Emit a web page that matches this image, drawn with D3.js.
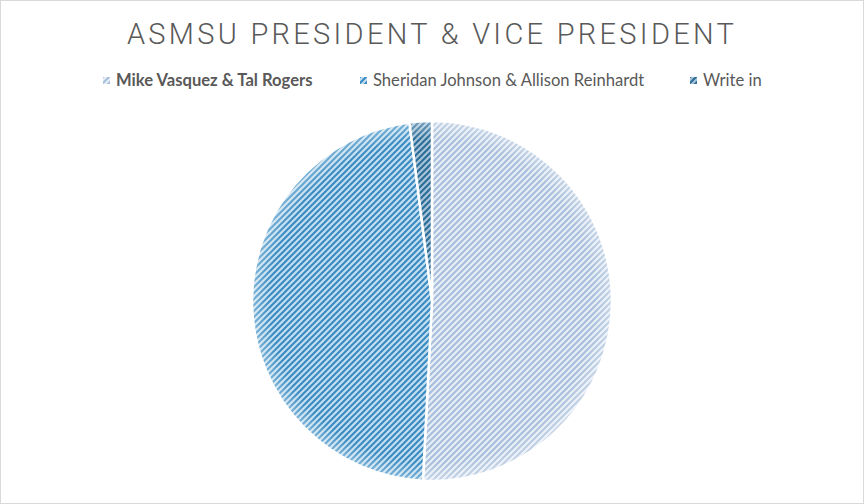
<!DOCTYPE html>
<html>
<head>
<meta charset="utf-8">
<script src="https://cdn.jsdelivr.net/npm/d3@7"></script>
<style>
  html, body { margin: 0; padding: 0; background: #fff; }
</style>
</head>
<body>
<div id="chart"></div>
<script>
// ticket names and vote share (%)
const candidates = ['Mike Vasquez & Tal Rogers', 'Sheridan Johnson & Allison Reinhardt', 'Write in'];
const shares = [50.8, 47.2, 2.0];
const bgColors = ['#e9eff7', '#c6e0f1', '#a7c6dc'];
const stripeColors = ['#a8bfdb', '#3a8cc2', '#2e6d96'];

const width = 864;
const height = 504;
const cx = 432, cy = 301, radius = 180;

const svg = d3.select('#chart')
  .append('svg')
    .attr('width', width)
    .attr('height', height);

svg.append('rect')
  .attr('x', 0.5).attr('y', 0.5)
  .attr('width', width - 1).attr('height', height - 1)
  .attr('fill', '#fff')
  .attr('stroke', '#d9d9d9');

const defs = svg.append('defs');

// one diagonal stripe pattern per slice
candidates.forEach((c, i) => {
  const p = defs.append('pattern')
    .attr('id', 'pat' + i)
    .attr('patternUnits', 'userSpaceOnUse')
    .attr('width', 6)
    .attr('height', 6);
  p.append('rect').attr('width', 6).attr('height', 6).attr('fill', bgColors[i]);
  p.append('path')
    .attr('d', 'M-1,1 l2,-2 M0,6 l6,-6 M5,7 l2,-2')
    .attr('stroke', stripeColors[i])
    .attr('stroke-width', 2.2);
});

// soft shading near the rim
const grad = defs.append('radialGradient')
  .attr('id', 'rim')
  .attr('cx', '50%').attr('cy', '50%').attr('r', '50%');
grad.append('stop').attr('offset', '90%').attr('stop-color', '#fff').attr('stop-opacity', 0);
grad.append('stop').attr('offset', '100%').attr('stop-color', '#fff').attr('stop-opacity', 0.35);

// title
svg.append('text')
  .attr('x', cx)
  .attr('y', 44)
  .attr('text-anchor', 'middle')
  .style('font-family', 'Roboto, "Liberation Sans", sans-serif')
  .style('font-weight', 300)
  .style('font-size', '29px')
  .style('letter-spacing', '3.3px')
  .attr('fill', '#595959')
  .text('ASMSU PRESIDENT & VICE PRESIDENT');

// legend
const legendX = [103, 360, 690];
const legend = svg.selectAll('.legend')
  .data(candidates)
  .join('g')
    .attr('class', 'legend')
    .attr('transform', (d, i) => `translate(${legendX[i]}, 77)`);

legend.append('rect')
  .attr('width', 7).attr('height', 7)
  .attr('fill', (d, i) => `url(#pat${i})`);

legend.append('text')
  .attr('x', 13)
  .attr('y', 9)
  .style('font-family', 'Lato, "Open Sans", sans-serif')
  .style('font-size', '16.6px')
  .style('font-weight', (d, i) => i === 0 ? 700 : 400)
  .attr('fill', '#595959')
  .text(d => d);

// pie
const pie = d3.pie().sort(null).value(d => d);
const arc = d3.arc().innerRadius(0).outerRadius(radius);

const g = svg.append('g')
  .attr('transform', `translate(${cx},${cy})`);

g.selectAll('.slice')
  .data(pie(shares))
  .join('path')
    .attr('class', 'slice')
    .attr('d', arc)
    .attr('fill', (d, i) => `url(#pat${i})`)
    .attr('stroke', '#fff')
    .attr('stroke-width', 2.5);

g.append('circle')
  .attr('r', radius)
  .attr('fill', 'url(#rim)')
  .attr('pointer-events', 'none');
</script>
</body>
</html>
